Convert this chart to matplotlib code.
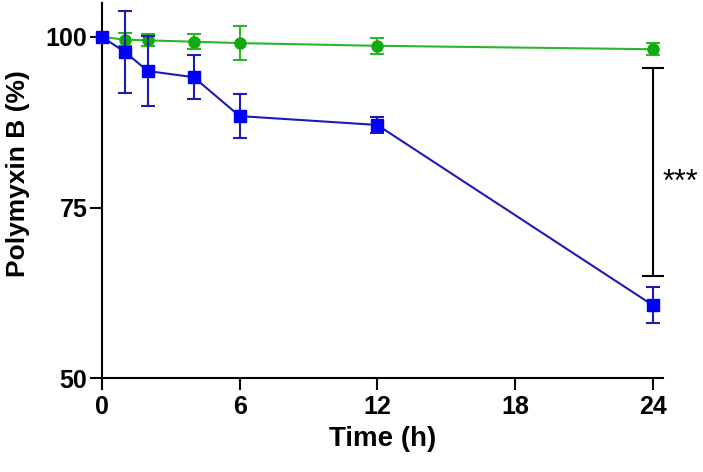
import matplotlib
matplotlib.use("Agg")
import matplotlib.pyplot as plt

# -------------------------------------------------
# Data
# -------------------------------------------------
time_h = [0, 1, 2, 4, 6, 12, 24]

green_mean = [100.0, 99.6, 99.5, 99.3, 99.1, 98.7, 98.2]
green_err = [0.0, 1.0, 0.9, 1.1, 2.5, 1.2, 0.9]

blue_mean = [100.0, 97.8, 95.0, 94.1, 88.4, 87.1, 60.7]
blue_err = [0.0, 6.0, 5.1, 3.2, 3.2, 1.2, 2.7]

# significance bracket at 24 h
sig_x = 24
sig_low, sig_high = 65.0, 95.5
sig_label = "***"

xticks = [0, 6, 12, 18, 24]
yticks = [50, 75, 100]

plt.rcParams['font.family'] = ['Liberation Sans', 'DejaVu Sans']

fig = plt.figure(figsize=(7.03, 4.72), dpi=100)
ax = fig.add_axes([0.145, 0.199, 0.798, 0.795])

ax.errorbar(time_h, green_mean, yerr=green_err, color='#2db52d', ecolor='#2db52d',
            marker='o', markersize=8, markerfacecolor='#11aa11', markeredgecolor='#11aa11',
            linewidth=1.5, elinewidth=1.5, capsize=5, capthick=1.5, zorder=3,
            clip_on=False)
ax.errorbar(time_h, blue_mean, yerr=blue_err, color='#1c1cb4', ecolor='#1c1cb4',
            marker='s', markersize=8, markerfacecolor='#0000ff', markeredgecolor='#0000ff',
            linewidth=1.5, elinewidth=1.5, capsize=5, capthick=1.5, zorder=4,
            clip_on=False)

# significance bracket
ax.errorbar([sig_x], [(sig_low + sig_high) / 2], yerr=[(sig_high - sig_low) / 2],
            fmt='none', ecolor='black', elinewidth=1.5, capsize=8, capthick=1.5)
ax.text(sig_x + 0.42, (sig_low + sig_high) / 2 - 1.7, sig_label, fontsize=22,
        ha='left', va='center')

ax.set_xlim(0, 24.45)
ax.set_ylim(50, 105)
ax.set_xticks(xticks)
ax.set_yticks(yticks)

for side in ['top', 'right']:
    ax.spines[side].set_visible(False)
for side in ['left', 'bottom']:
    ax.spines[side].set_linewidth(1.5)

ax.tick_params(width=1.5, length=8.5, pad=2, labelsize=18)
ax.tick_params(axis='x', pad=4)
for lab in ax.get_xticklabels() + ax.get_yticklabels():
    lab.set_fontweight('bold')

ax.set_xlabel("Time (h)", fontsize=20, fontweight='bold')
ax.set_ylabel("Polymyxin B (%)", fontsize=19, fontweight='bold')
ax.xaxis.set_label_coords(0.5, -0.128)
ax.yaxis.set_label_coords(-0.128, 0.544)

fig.savefig("out.png", dpi=100)
